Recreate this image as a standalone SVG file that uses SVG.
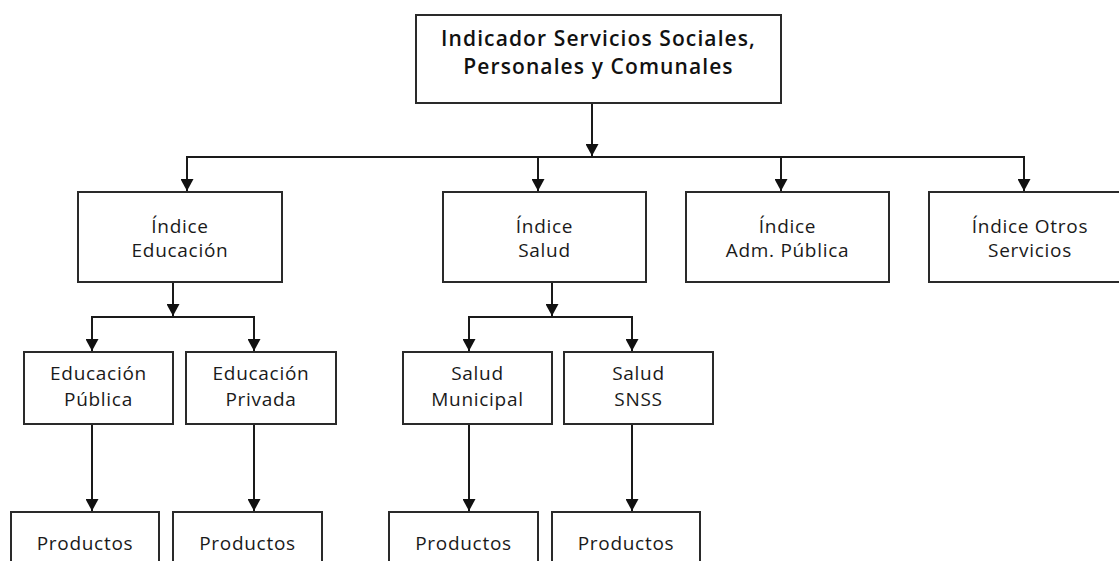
<svg xmlns="http://www.w3.org/2000/svg" width="1119" height="561" viewBox="0 0 1119 561">
<style>
.box{fill:#fff;stroke:#2a2a2a;stroke-width:2}
.t{font-family:"Open Sans","Noto Sans",sans-serif;font-size:19px;font-weight:500;letter-spacing:0.7px;fill:#1a1a1a;text-anchor:middle}
.title{font-family:"Open Sans","Noto Sans",sans-serif;font-size:21px;font-weight:600;letter-spacing:1.1px;fill:#111;text-anchor:middle}
.c{fill:none;stroke:#1a1a1a;stroke-width:2}
</style>
<defs>
<marker id="ah" markerUnits="userSpaceOnUse" markerWidth="13" markerHeight="13" refX="12" refY="6.5" orient="auto">
<path d="M0,0 L12,6.5 L0,13 Z" fill="#111"/>
</marker>
</defs>
<rect width="1119" height="561" fill="#fff"/>
<g id="connectors">
<line class="c" x1="592" y1="103" x2="592" y2="156" marker-end="url(#ah)"/>
<polyline class="c" points="187,191 187,157 1024,157 1024,191"/>
<line class="c" x1="187" y1="157" x2="187" y2="191" marker-end="url(#ah)"/>
<line class="c" x1="538" y1="157" x2="538" y2="191" marker-end="url(#ah)"/>
<line class="c" x1="781" y1="157" x2="781" y2="191" marker-end="url(#ah)"/>
<line class="c" x1="1024" y1="157" x2="1024" y2="191" marker-end="url(#ah)"/>
<line class="c" x1="173" y1="282" x2="173" y2="316" marker-end="url(#ah)"/>
<polyline class="c" points="92,351 92,317 254,317 254,351"/>
<line class="c" x1="92" y1="317" x2="92" y2="351" marker-end="url(#ah)"/>
<line class="c" x1="254" y1="317" x2="254" y2="351" marker-end="url(#ah)"/>
<line class="c" x1="552" y1="282" x2="552" y2="316" marker-end="url(#ah)"/>
<polyline class="c" points="469,351 469,317 632,317 632,351"/>
<line class="c" x1="469" y1="317" x2="469" y2="351" marker-end="url(#ah)"/>
<line class="c" x1="632" y1="317" x2="632" y2="351" marker-end="url(#ah)"/>
<line class="c" x1="92" y1="424" x2="92" y2="511" marker-end="url(#ah)"/>
<line class="c" x1="254" y1="424" x2="254" y2="511" marker-end="url(#ah)"/>
<line class="c" x1="469" y1="424" x2="469" y2="511" marker-end="url(#ah)"/>
<line class="c" x1="632" y1="424" x2="632" y2="511" marker-end="url(#ah)"/>
</g>
<g id="top">
<rect class="box" x="416" y="15" width="365" height="88"/>
<text class="title" x="598.5" y="45.5">Indicador Servicios Sociales,</text>
<text class="title" x="598.5" y="73.5">Personales y Comunales</text>
</g>
<g id="idx-educacion">
<rect class="box" x="78" y="192" width="204" height="90"/>
<text class="t" x="180" y="233">Índice</text>
<text class="t" x="180" y="257">Educación</text>
</g>
<g id="idx-salud">
<rect class="box" x="443" y="192" width="203" height="90"/>
<text class="t" x="544.5" y="233">Índice</text>
<text class="t" x="544.5" y="257">Salud</text>
</g>
<g id="idx-adm">
<rect class="box" x="686" y="192" width="203" height="90"/>
<text class="t" x="787.5" y="233">Índice</text>
<text class="t" x="787.5" y="257">Adm. Pública</text>
</g>
<g id="idx-otros">
<rect class="box" x="929" y="192" width="200" height="90"/>
<text class="t" x="1030" y="233">Índice Otros</text>
<text class="t" x="1030" y="257">Servicios</text>
</g>
<g id="edu-publica">
<rect class="box" x="24" y="352" width="149" height="72"/>
<text class="t" x="98.5" y="380">Educación</text>
<text class="t" x="98.5" y="405.5">Pública</text>
</g>
<g id="edu-privada">
<rect class="box" x="186" y="352" width="150" height="72"/>
<text class="t" x="261" y="380">Educación</text>
<text class="t" x="261" y="405.5">Privada</text>
</g>
<g id="salud-municipal">
<rect class="box" x="403" y="352" width="149" height="72"/>
<text class="t" x="477.5" y="380">Salud</text>
<text class="t" x="477.5" y="405.5">Municipal</text>
</g>
<g id="salud-snss">
<rect class="box" x="564" y="352" width="149" height="72"/>
<text class="t" x="638.5" y="380">Salud</text>
<text class="t" x="638.5" y="405.5">SNSS</text>
</g>
<g id="prod-1">
<rect class="box" x="11" y="512" width="148" height="70"/>
<text class="t" x="85" y="550">Productos</text>
</g>
<g id="prod-2">
<rect class="box" x="173" y="512" width="149" height="70"/>
<text class="t" x="247.5" y="550">Productos</text>
</g>
<g id="prod-3">
<rect class="box" x="389" y="512" width="149" height="70"/>
<text class="t" x="463.5" y="550">Productos</text>
</g>
<g id="prod-4">
<rect class="box" x="552" y="512" width="148" height="70"/>
<text class="t" x="626" y="550">Productos</text>
</g>
</svg>
